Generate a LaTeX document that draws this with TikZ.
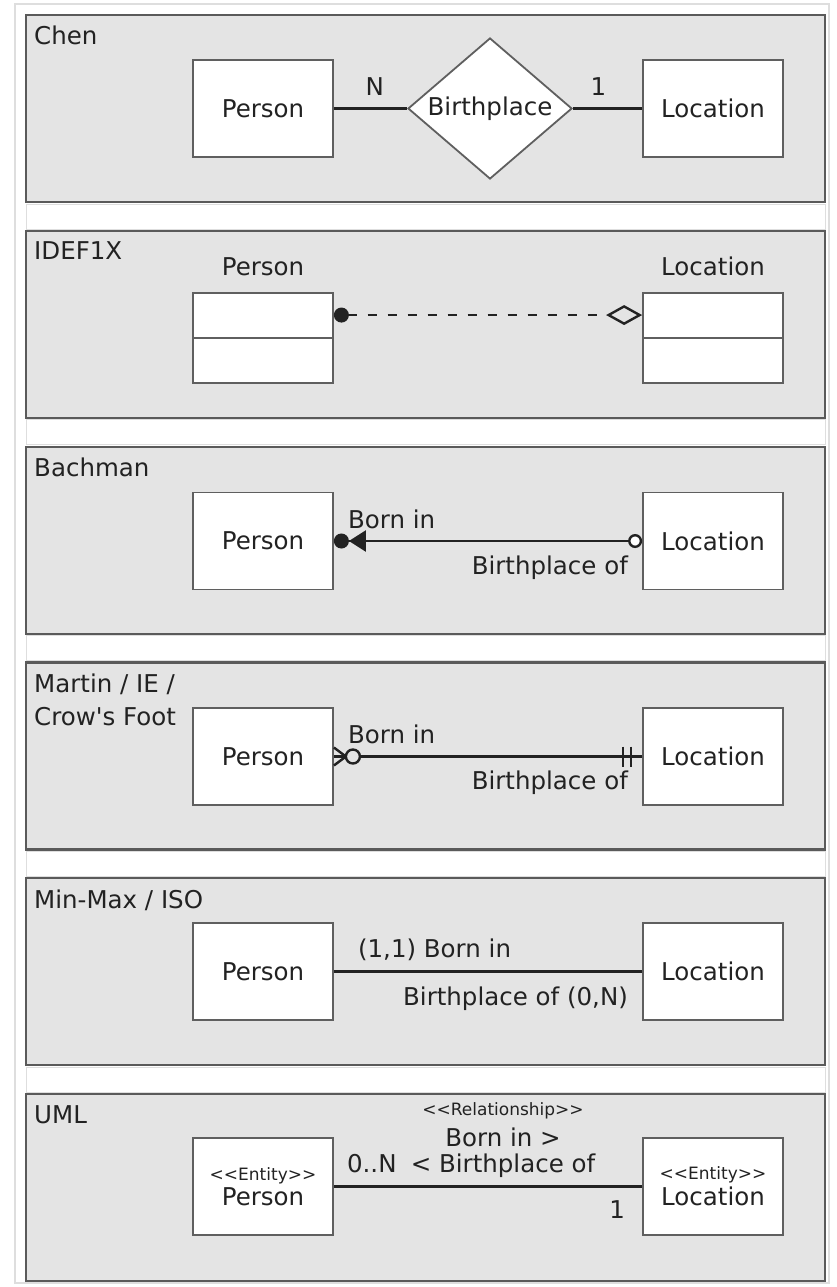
\documentclass[tikz,border=0pt]{standalone}
\usepackage{fontspec}
\setmainfont{DejaVu Sans}
\usetikzlibrary{positioning,arrows.meta,shapes.geometric,calc}
\definecolor{panelfill}{RGB}{228,228,228}
\definecolor{paneledge}{RGB}{90,90,90}
\definecolor{boxedge}{RGB}{95,95,95}
\definecolor{ink}{RGB}{34,34,34}
\definecolor{faint}{RGB}{222,222,222}
\newcommand{\stereo}[1]{{\fontsize{17}{17}\selectfont <\kern0pt<#1>\kern0pt>}}

\tikzset{
  panel/.style={draw=paneledge,fill=panelfill,line width=2.2pt},
  gapstrip/.style={draw=faint,fill=white,line width=1pt},
  title/.style={anchor=north west,inner sep=0pt,align=left,text=ink,font=\fontsize{24.5}{33}\selectfont},
  entity/.style={draw=boxedge,fill=white,line width=1.8pt,minimum width=140pt,minimum height=97pt,
    inner sep=0pt,text=ink,align=center,font=\fontsize{24.5}{21}\selectfont},
  relation/.style={diamond,aspect=1.16,draw=boxedge,fill=white,line width=1.8pt,minimum width=164pt,
    minimum height=141pt,inner sep=0pt,text=ink,font=\fontsize{24.5}{28}\selectfont},
  link/.style={draw=ink,line width=2.4pt},
  lbl/.style={inner sep=0pt,text=ink,align=center,font=\fontsize{24.5}{26}\selectfont}
}

\begin{document}
\begin{tikzpicture}[x=1pt,y=-1pt]
    \useasboundingbox (0,0) rectangle (836,1287);
    \draw[faint,line width=1.5pt] (15,4) rectangle (829,1283);
    % Panels and their titles
    \foreach \i in {0,...,4}
        \draw[gapstrip] (26,{204+215.8*\i}) rectangle (825,{229+215.8*\i});
    \foreach \name [count=\i from 0] in {Chen,IDEF1X,Bachman,{Martin / IE /\\Crow\textquotesingle s Foot},{Min-Max / ISO},UML} {
        \draw[panel] (26,{15+215.8*\i}) rectangle (825,{202+215.8*\i});
        \node[title] (title\i) at (34,{26+215.8*\i}) {\name};
    }

    % Chen
    \node[entity] (chenP) at (263,108.5) {Person};
    \node[relation] (chenR) at (490,108.5) {Birthplace};
    \node[entity] (chenL) at (713,108.5) {Location};
    \draw[link] (chenP) -- node[lbl,pos=0.56,anchor=base,yshift=12.5pt] {N} (chenR);
    \draw[link] (chenR) -- node[lbl,pos=0.37,anchor=base,yshift=12.5pt] {1} (chenL);

    % IDEF1X
    \node[entity,minimum height=90pt,label={[lbl,label distance=16pt]above:Person}] (idefP) at (263,338) {};
    \node[entity,minimum height=90pt,label={[lbl,label distance=16pt]above:Location}] (idefL) at (713,338) {};
    \draw[boxedge,line width=1.2pt] (idefP.west) -- (idefP.east);
    \draw[boxedge,line width=1.2pt] (idefL.west) -- (idefL.east);
    \draw[link,dash pattern=on 9pt off 11pt,{Circle[length=15pt]}-{Diamond[open,length=36pt,width=20pt]}]
        ($(idefP.north east)!.5!(idefP.east)$) -- ($(idefL.north west)!.5!(idefL.west)$);

    % Bachman
    \node[entity] (bachP) at (263,541) {Person};
    \node[entity] (bachL) at (713,541) {Location};
    \draw[link,{Circle[length=15pt] Triangle[length=17pt,width=21pt]}-{Circle[open,fill=white,length=14pt]}]
        (bachP) -- node[lbl,pos=0,anchor=base west,xshift=13pt,yshift=13pt] {Born in}
                   node[lbl,pos=1,anchor=base east,xshift=-13pt,yshift=-33pt] {Birthplace of} (bachL);

    % Martin / IE / Crow's Foot
    \node[entity] (martP) at (263,756.5) {Person};
    \node[entity] (martL) at (713,756.5) {Location};
    \draw[link] (martP) -- node[lbl,pos=0,anchor=base west,xshift=13pt,yshift=13pt] {Born in}
                           node[lbl,pos=1,anchor=base east,xshift=-13pt,yshift=-33pt] {Birthplace of} (martL);
    \draw[link] ($(martP.east)+(0,-9)$) -- ($(martP.east)+(12,0)$) -- ($(martP.east)+(0,9)$);
    \draw[link,fill=panelfill] ($(martP.east)+(19,0)$) circle[radius=7];
    \foreach \dx in {11,19}
        \draw[link] ($(martL.west)+(-\dx,-10)$) -- ++(0,20);

    % Min-Max / ISO
    \node[entity] (mmP) at (263,971.5) {Person};
    \node[entity] (mmL) at (713,971.5) {Location};
    \draw[link] (mmP) -- node[lbl,pos=0,anchor=base west,xshift=23pt,yshift=14pt] {(1,1) Born in}
                         node[lbl,pos=1,anchor=base east,xshift=-13pt,yshift=-34pt] {Birthplace of (0,N)} (mmL);

    % UML
    \node[entity] (umlP) at (263,1186.5) {\stereo{Entity}\\[3pt]Person};
    \node[entity] (umlL) at (713,1186.5) {\stereo{Entity}\\[3pt]Location};
    \draw[link] (umlP) -- node[lbl,pos=0,anchor=base west,xshift=12pt,yshift=14pt] {0..N}
                          node[lbl,pos=1,anchor=base east,xshift=-16pt,yshift=-32pt] {1}
                          node[lbl,pos=0.5,anchor=south,xshift=15pt,yshift=8pt] {\stereo{Relationship}\\[5pt]Born in >\\< Birthplace of} (umlL);
\end{tikzpicture}
\end{document}
